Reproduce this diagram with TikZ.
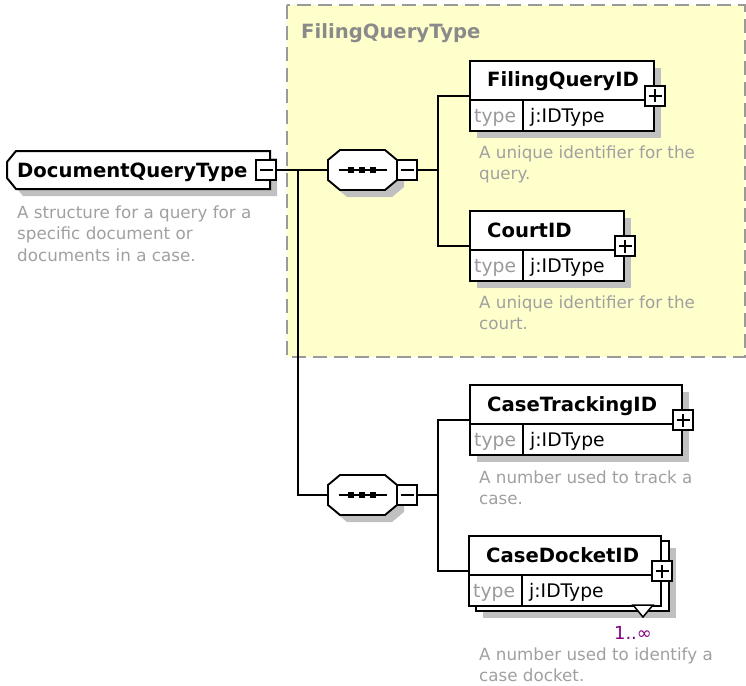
\documentclass[tikz,border=0pt]{standalone}
\usepackage{fontspec}
\setmainfont{DejaVu Sans}
\usetikzlibrary{shadows,calc}
\definecolor{yel}{HTML}{FFFFCC}
\definecolor{dashc}{HTML}{9A9A9A}
\definecolor{shad}{HTML}{C0C0C0}
\definecolor{descc}{HTML}{A0A0A0}
\definecolor{lblc}{HTML}{8A8A8A}
\definecolor{typc}{HTML}{9A9A9A}
\definecolor{purp}{HTML}{800080}
\newcommand\xelem[7]{% #1 extra style, #2 name, #3 x, #4 y, #5 width, #6 title, #7 description
  \node[elbox, minimum width=#5bp, #1] (#2) at (#3,#4) {};
  \draw[thinline] ([yshift=-40bp]#2.north west) -- ([yshift=-40bp]#2.north east);
  \draw[thinline] ([xshift=54bp,yshift=-40bp]#2.north west) -- ([xshift=54bp]#2.south west);
  \node[ttl] (#2t) at ([xshift=18bp,yshift=-22bp]#2.north west) {#6};
  \node[typ, text=typc] (#2k) at ([xshift=5bp,yshift=-58bp]#2.north west) {type};
  \node[typ] (#2v) at ([xshift=61bp,yshift=-58bp]#2.north west) {j:IDType};
  \node[plusbox] (#2p) at ([yshift=-36bp]#2.north east) {};
}
\newcommand\seqoct[3]{% #1 name, #2 cx, #3 cy
  \begin{scope}[shift={(#2,#3)}]
    \fill[shad] (-22.5+7,-20+7) -- (22.5+7,-20+7) -- (34.5+7,-10+7) -- (34.5+7,10+7) -- (22.5+7,20+7) -- (-22.5+7,20+7) -- (-34.5+7,10+7) -- (-34.5+7,-10+7) -- cycle;
    \draw[line width=1.9bp, fill=white] (-22.5,-20) -- (22.5,-20) -- (34.5,-10) -- (34.5,10) -- (22.5,20) -- (-22.5,20) -- (-34.5,10) -- (-34.5,-10) -- cycle;
    \draw[line width=1.7bp] (-24,0) -- (24,0);
    \fill (-12,0) +(-3,-3) rectangle +(3,3);
    \fill (-1,0) +(-3,-3) rectangle +(3,3);
    \fill (10,0) +(-3,-3) rectangle +(3,3);
  \end{scope}
  \node[inner sep=0, minimum width=69bp, minimum height=40bp] (#1) at (#2,#3) {};
  \node[minusbox] (#1m) at (#2+44.5,#3) {};
}
\begin{document}
\begin{tikzpicture}[x=1bp,y=-1bp,
  thinline/.style={line width=1.5bp},
  conn/.style={line width=1.8bp},
  shd/.style={drop shadow={shadow xshift=7bp, shadow yshift=-7bp, fill=shad, opacity=1}},
  elbox/.style={draw, line width=2bp, fill=white, minimum height=70bp, inner sep=0, anchor=north west},
  pm/.style={draw, line width=1.5bp, fill=white, minimum width=20bp, minimum height=20bp, inner sep=0},
  plusbox/.style={pm, path picture={\draw[line width=1.8bp] ([xshift=-6.5bp]path picture bounding box.center) -- ([xshift=6.5bp]path picture bounding box.center) ([yshift=-6.5bp]path picture bounding box.center) -- ([yshift=6.5bp]path picture bounding box.center);}},
  minusbox/.style={pm, path picture={\draw[line width=1.8bp] ([xshift=-6.5bp]path picture bounding box.center) -- ([xshift=6.5bp]path picture bounding box.center);}},
  ttl/.style={font=\fontsize{19.7}{22}\selectfont\bfseries, anchor=west, inner sep=0, text height=14bp, text depth=4bp},
  typ/.style={font=\fontsize{18.8}{20}\selectfont, anchor=west, inner sep=0, text height=13bp, text depth=4bp},
  desc/.style={font=\fontsize{16.8}{21.5}\selectfont, text=descc, align=left, anchor=north west, inner sep=0},
]
\useasboundingbox (0,0) rectangle (746,686);
% group box
\draw[fill=yel, draw=dashc, line width=2bp, dash pattern=on 14bp off 7bp] (287,5) rectangle (745,357);
\node[font=\fontsize{19.7}{22}\selectfont\bfseries, text=lblc, anchor=west, inner sep=0, text height=14bp, text depth=4bp] (grp) at (301,34) {FilingQueryType};

% root element
\fill[shad] (16+7,151+7) -- (270+7,151+7) -- (270+7,189+7) -- (16+7,189+7) -- (7+7,178+7) -- (7+7,162+7) -- cycle;
\draw[line width=2bp, fill=white] (16,151) -- (270,151) -- (270,189) -- (16,189) -- (7,178) -- (7,162) -- cycle;
\node[ttl] (dq) at (17,172) {DocumentQueryType};
\node[minusbox] (dqm) at (266,170) {};
\node[desc] (dqd) at (17,205.5) {A structure for a query for a\\specific document or\\documents in a case.};

% sequences
\seqoct{s1}{362.5}{170}
\seqoct{s2}{362.5}{495}

% elements
\xelem{shd}{fq}{469}{60}{184}{FilingQueryID}{}
\node[desc] (fqd) at (479,145.5) {A unique identifier for the\\query.};
\xelem{shd}{ct}{469}{210}{154}{CourtID}{}
\node[desc] (ctd) at (479,295.5) {A unique identifier for the\\court.};
\xelem{shd}{tr}{469}{384}{212}{CaseTrackingID}{}
\node[desc] (trd) at (479,470.5) {A number used to track a\\case.};
\node[elbox, minimum width=193bp, shd] (cdb) at (475,540) {};
\xelem{}{cd}{468}{535}{192}{CaseDocketID}{}
\draw[thinline, fill=white] (633,605) -- (653,605) -- (643,617) -- cycle;
\node[font=\fontsize{18}{20}\selectfont, text=purp, inner sep=0] (cdm) at (633,633) {1..∞};
\node[desc] (cdd) at (479,647.5) {A number used to identify a\\case docket.};

% connectors
\coordinate (j0) at (298,170);
\coordinate (j1) at (438,170);
\coordinate (j2) at (438,495);
\draw[conn] (dqm.east) -- (s1.west);
\draw[conn] (j0) |- (s2.west);
\draw[conn] (s1m.east) -- (j1);
\draw[conn] (j1) |- (fq.west |- fqp.center);
\draw[conn] (j1) |- (ct.west |- ctp.center);
\draw[conn] (s2m.east) -- (j2);
\draw[conn] (j2) |- (tr.west |- trp.center);
\draw[conn] (j2) |- (cd.west |- cdp.center);
\end{tikzpicture}
\end{document}
